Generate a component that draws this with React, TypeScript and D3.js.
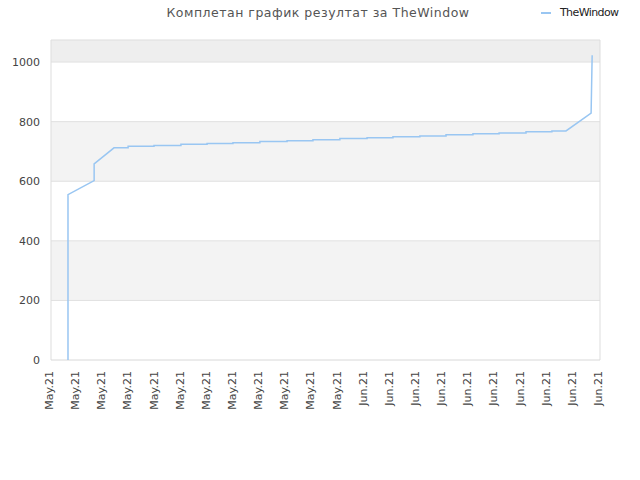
import React from 'react';
import * as d3 from 'd3';

// Ознаке на x оси (по један дан)
const tickLabels = [
  'May.21', 'May.21', 'May.21', 'May.21', 'May.21', 'May.21', 'May.21', 'May.21',
  'May.21', 'May.21', 'May.21', 'May.21', 'Jun.21', 'Jun.21', 'Jun.21', 'Jun.21',
  'Jun.21', 'Jun.21', 'Jun.21', 'Jun.21', 'Jun.21', 'Jun.21',
];

// Време (у данима од почетка) и резултат
const times = [
  0.65, 0.65, 1.65, 1.65, 2.41,
  2.95, 2.95, 3.94, 3.94, 4.97, 4.97, 5.97, 5.97, 6.96, 6.96,
  7.99, 7.99, 9.03, 9.03, 10.02, 10.02, 11.05, 11.05, 12.09, 12.09,
  13.08, 13.08, 14.11, 14.11, 15.11, 15.11, 16.14, 16.14, 17.14, 17.14,
  18.17, 18.17, 19.16, 19.16, 19.7, 20.66, 20.7,
];
const scores = [
  0, 555, 602, 658, 712,
  712, 717, 717, 720, 720, 724, 724, 727, 727, 729,
  729, 733, 733, 736, 736, 739, 739, 743, 743, 746,
  746, 749, 749, 752, 752, 756, 756, 759, 759, 762,
  762, 766, 766, 769, 769, 829, 1023,
];

const yTicks = [0, 200, 400, 600, 800, 1000];
const bands = [[200, 400], [600, 800]];

const title = 'Комплетан график резултат за TheWindow';
const seriesName = 'TheWindow';

export default function App() {
  const width = 640;
  const height = 480;
  const margin = { top: 40, right: 40, bottom: 120, left: 51 };

  const x = d3.scaleLinear()
    .domain([0, tickLabels.length - 1])
    .range([margin.left, width - margin.right]);
  const y = d3.scaleLinear()
    .domain([0, 1074])
    .range([height - margin.bottom, margin.top]);

  const line = d3.line<number>()
    .x((_, i) => x(times[i]))
    .y(d => y(d));

  const font = '"DejaVu Sans", sans-serif';
  const [x0, x1] = x.range();
  const [yb, yt] = y.range();

  return (
    <svg width={width} height={height}
      style={{ position: 'absolute', left: 0, top: 0, background: '#fff' }}>
      <text x={318} y={17} textAnchor="middle" fontFamily={font} fontSize={12.5}
        fill="#555" letterSpacing={0.5}>{title}</text>

      {/* легенда */}
      <line x1={541} x2={551} y1={13} y2={13} stroke="#99c6f2" strokeWidth={2} />
      <text x={560} y={16} fontFamily={font} fontSize={11} fill="#222"
        letterSpacing={-0.6}>{seriesName}</text>

      {/* позадина */}
      <rect x={x0} y={yt} width={x1 - x0} height={y(1000) - yt} fill="#eeeeee" />
      {bands.map(([a, b]) => (
        <rect key={a} x={x0} y={y(b)} width={x1 - x0} height={y(a) - y(b)} fill="#f3f3f3" />
      ))}
      {yTicks.slice(1).map(t => (
        <line key={t} x1={x0} x2={x1} y1={y(t)} y2={y(t)} stroke="#e0e0e0" />
      ))}
      <path d={`M${x0},${yb}V${yt}H${x1}V${yb}`} fill="none" stroke="#dddddd" />
      <line x1={x0} x2={x1} y1={yb} y2={yb} stroke="#d8d8d8" />

      {yTicks.map(t => (
        <text key={t} x={x0 - 11} y={y(t) + 4} textAnchor="end" fontFamily={font}
          fontSize={11} fill="#444">{t}</text>
      ))}

      {tickLabels.map((lab, i) => (
        <text key={i} transform={`translate(${x(i) + 2},${yb + 11}) rotate(-90)`}
          textAnchor="end" fontFamily={font} fontSize={11} fill="#444">{lab}</text>
      ))}

      <path d={line(scores) || ''} fill="none" stroke="#99c6f2" strokeWidth={1.5} />
    </svg>
  );
}
